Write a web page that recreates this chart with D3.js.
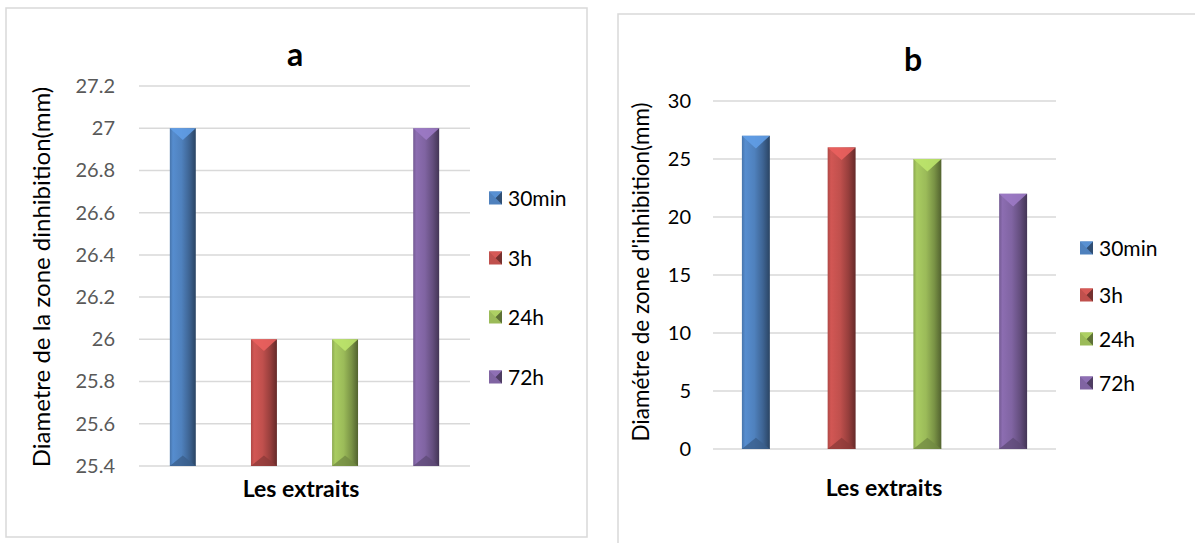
<!DOCTYPE html>
<html>
<head>
<meta charset="utf-8">
<script src="https://cdn.jsdelivr.net/npm/d3@7"></script>
<style>
  html, body { margin: 0; padding: 0; background: #fff; }
  svg { display: block; font-family: Lato, "Open Sans", sans-serif; }
</style>
</head>
<body>
<svg id="chart" width="1195" height="543"></svg>
<script>
// Series (sampling times) shared by both panels
const series = ["30min", "3h", "24h", "72h"];
const seriesColors = ["#4F81BD", "#C0504D", "#9BBB59", "#8064A2"];

// Panel a: inhibition zone diameters (mm)
const valuesA = [27, 26, 26, 27];
const ticksA = [25.4, 25.6, 25.8, 26, 26.2, 26.4, 26.6, 26.8, 27, 27.2];

// Panel b: inhibition zone diameters (mm)
const valuesB = [27, 26, 25, 22];
const ticksB = [0, 5, 10, 15, 20, 25, 30];

const svg = d3.select("#chart");
const defs = svg.append("defs");

// Bevelled fill for each series: light left face, dark right edge
seriesColors.forEach((c, i) => {
  const base = d3.color(c);
  const g = defs.append("linearGradient")
    .attr("id", "bar-grad-" + i)
    .attr("x1", "0%").attr("x2", "100%").attr("y1", "0%").attr("y2", "0%");
  g.append("stop").attr("offset", "0%").attr("stop-color", base.darker(0.3));
  g.append("stop").attr("offset", "12%").attr("stop-color", base.brighter(0.25));
  g.append("stop").attr("offset", "45%").attr("stop-color", base);
  g.append("stop").attr("offset", "75%").attr("stop-color", base.darker(0.7));
  g.append("stop").attr("offset", "100%").attr("stop-color", base.darker(1.8));
});

function drawPanel(cfg) {
  const g = svg.append("g");

  // outer frame
  g.append("rect")
    .attr("x", cfg.frame[0]).attr("y", cfg.frame[1])
    .attr("width", cfg.frame[2]).attr("height", cfg.frame[3])
    .attr("fill", "#fff").attr("stroke", "#d9d9d9").attr("stroke-width", 1.5);

  const x = d3.scaleBand()
    .domain(series)
    .range(cfg.xRange)
    .paddingInner(cfg.padInner)
    .paddingOuter(cfg.padOuter);

  const y = d3.scaleLinear()
    .domain([cfg.ticks[0], cfg.ticks[cfg.ticks.length - 1]])
    .range(cfg.yRange);

  // horizontal gridlines
  g.append("g").selectAll("line")
    .data(cfg.ticks)
    .join("line")
    .attr("x1", cfg.xRange[0]).attr("x2", cfg.xRange[1])
    .attr("y1", d => y(d)).attr("y2", d => y(d))
    .attr("stroke", "#d9d9d9").attr("stroke-width", 1.5);

  // y axis tick labels
  const yAxis = d3.axisLeft(y)
    .tickValues(cfg.ticks)
    .tickSize(0)
    .tickPadding(0)
    .tickFormat(d => String(d));
  const ax = g.append("g")
    .attr("transform", `translate(${cfg.labelRight},0)`)
    .call(yAxis);
  ax.select(".domain").remove();
  ax.selectAll("text")
    .attr("font-family", "Lato, sans-serif")
    .attr("font-size", 20)
    .attr("fill", cfg.tickColor);

  // bars
  const bars = g.append("g").selectAll("g")
    .data(cfg.values.map((v, i) => ({ v, i, s: series[i] })))
    .join("g");

  const base = y(cfg.ticks[0]);
  bars.append("rect")
    .attr("x", d => x(d.s))
    .attr("y", d => y(d.v))
    .attr("width", x.bandwidth())
    .attr("height", d => base - y(d.v))
    .attr("fill", d => `url(#bar-grad-${d.i})`);

  // top bevel (light triangle)
  bars.append("path")
    .attr("d", d => {
      const x0 = x(d.s), w = x.bandwidth(), t = y(d.v);
      return `M${x0},${t}L${x0 + w},${t}L${x0 + w / 2},${t + w * 0.45}Z`;
    })
    .attr("fill", d => d3.color(seriesColors[d.i]).brighter(0.55))
    .attr("opacity", 0.9);

  // bottom bevel (dark triangle)
  bars.append("path")
    .attr("d", d => {
      const x0 = x(d.s), w = x.bandwidth();
      return `M${x0},${base}L${x0 + w},${base}L${x0 + w / 2},${base - w * 0.4}Z`;
    })
    .attr("fill", d => d3.color(seriesColors[d.i]).darker(0.9))
    .attr("opacity", 0.75);

  // chart title
  g.append("text")
    .attr("x", cfg.title[1]).attr("y", cfg.title[2])
    .attr("text-anchor", "middle")
    .attr("font-size", 32).attr("font-weight", "bold")
    .attr("fill", "#000")
    .text(cfg.title[0]);

  // x axis title
  g.append("text")
    .attr("x", cfg.xTitleX)
    .attr("y", cfg.xTitleY)
    .attr("text-anchor", "middle")
    .attr("font-size", 23).attr("font-weight", "bold")
    .attr("fill", "#000")
    .text("Les extraits");

  // y axis title
  g.append("text")
    .attr("transform", `translate(${cfg.yTitle[1]},${cfg.yTitle[2]}) rotate(-90)`)
    .attr("text-anchor", "middle")
    .attr("dy", "0.35em")
    .attr("font-size", cfg.yTitleSize)
    .attr("fill", "#000")
    .text(cfg.yTitle[0]);

  // legend
  const leg = g.append("g").selectAll("g")
    .data(series)
    .join("g")
    .attr("transform", (d, i) => `translate(${cfg.legend.x},${cfg.legend.y[i]})`);
  const s = 13;
  leg.append("rect")
    .attr("x", 0).attr("y", -s / 2).attr("width", s).attr("height", s)
    .attr("fill", (d, i) => seriesColors[i]);
  leg.append("path")
    .attr("d", `M${s},${-s / 2}L${s},${s / 2}L${s / 2},0Z`)
    .attr("fill", (d, i) => d3.color(seriesColors[i]).darker(1.4));
  leg.append("path")
    .attr("d", `M0,${-s / 2}L${s},${-s / 2}L${s / 2},0Z`)
    .attr("fill", (d, i) => d3.color(seriesColors[i]).brighter(0.3));
  leg.append("text")
    .attr("x", s + 6).attr("y", 0).attr("dy", "0.36em")
    .attr("font-size", 21).attr("fill", "#000")
    .text(d => d);
}

drawPanel({
  frame: [6, 8, 581, 529],
  xRange: [139, 470],
  padInner: 0.68, padOuter: 0.38,
  yRange: [466, 86],
  ticks: ticksA,
  values: valuesA,
  labelRight: 115,
  tickColor: "#595959",
  title: ["a", 295, 66],
  xTitleX: 301,
  xTitleY: 497,
  yTitle: ["Diametre de la zone dinhibition(mm)", 42, 277],
  yTitleSize: 24,
  legend: { x: 489, y: [198, 258, 317, 377] }
});

drawPanel({
  frame: [618, 14, 600, 560],
  xRange: [713, 1056],
  padInner: 0.674, padOuter: 0.337,
  yRange: [449, 101],
  ticks: ticksB,
  values: valuesB,
  labelRight: 691,
  tickColor: "#000",
  title: ["b", 913, 71],
  xTitleX: 884,
  xTitleY: 496,
  yTitle: ["Diamétre de zone d'inhibition(mm)", 641, 272],
  yTitleSize: 22.5,
  legend: { x: 1080, y: [248, 295, 339, 383] }
});
</script>
</body>
</html>
